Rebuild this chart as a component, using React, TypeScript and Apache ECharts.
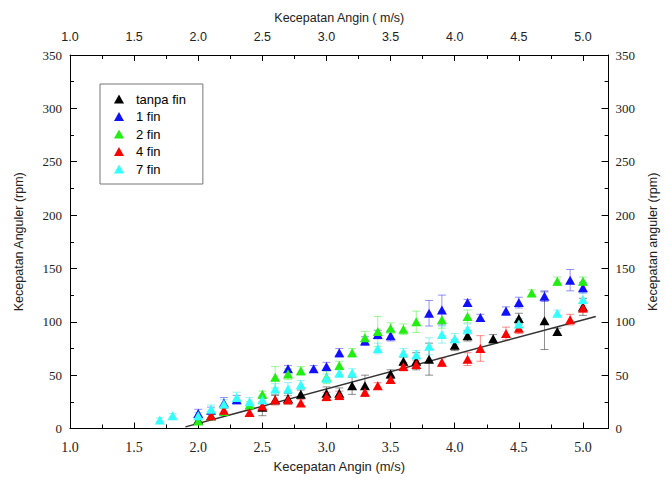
import React, { useEffect, useRef } from "react";
import * as echarts from "echarts";

const seriesNames = ["tanpa fin", "1 fin", "2 fin", "4 fin", "7 fin"];
const seriesColors = ["#000000", "#1010ff", "#22ee11", "#ff0000", "#33ffff"];
const errColors = ["rgba(0,0,0,0.45)", "rgba(16,16,255,0.45)", "rgba(34,238,17,0.45)", "rgba(255,0,0,0.45)", "rgba(51,230,230,0.5)"];

const tanpaFinX = [2.0, 2.1, 2.5, 2.6, 2.7, 2.8, 3.0, 3.1, 3.2, 3.3, 3.5, 3.6, 3.7, 3.8, 4.0, 4.1, 4.3, 4.5, 4.7, 4.8, 5.0];
const tanpaFinY = [8, 12, 20, 27, 28, 32, 33, 33, 40, 40, 51, 63, 63, 65, 78, 87, 84, 103, 101, 91, 114];
const tanpaFinErr = [3, 3, 8, 4, 5, 4, 6, 5, 8, 10, 4, 4, 8, 15, 5, 5, 4, 5, 27, 3, 8];

const fin1X = [2.0, 2.1, 2.2, 2.3, 2.7, 2.9, 3.0, 3.1, 3.3, 3.4, 3.5, 3.8, 3.9, 4.1, 4.2, 4.4, 4.5, 4.7, 4.9, 5.0];
const fin1Y = [14, 17, 24, 27, 56, 56, 58, 71, 82, 88, 87, 108, 111, 118, 104, 110, 118, 124, 139, 132];
const fin1Err = [4, 3, 5, 4, 3, 3, 4, 4, 4, 4, 5, 12, 14, 3, 3, 4, 5, 5, 10, 5];

const fin2X = [2.0, 2.1, 2.2, 2.4, 2.5, 2.6, 2.7, 2.8, 3.0, 3.1, 3.2, 3.3, 3.4, 3.5, 3.6, 3.7, 3.9, 4.1, 4.6, 4.8, 5.0];
const fin2Y = [7, 12, 16, 22, 32, 48, 51, 54, 48, 59, 71, 85, 91, 94, 93, 100, 102, 105, 127, 138, 138];
const fin2Err = [3, 3, 3, 3, 3, 10, 5, 4, 6, 4, 4, 6, 14, 5, 5, 10, 8, 6, 3, 4, 4];

const fin4X = [2.1, 2.2, 2.4, 2.5, 2.6, 2.7, 2.8, 3.0, 3.1, 3.3, 3.4, 3.5, 3.6, 3.7, 3.9, 4.1, 4.2, 4.4, 4.5, 4.9, 5.0];
const fin4Y = [12, 17, 15, 21, 27, 27, 24, 30, 31, 34, 40, 46, 58, 60, 62, 65, 75, 89, 94, 102, 113];
const fin4Err = [3, 3, 3, 4, 5, 4, 3, 4, 4, 3, 3, 3, 4, 4, 4, 6, 12, 6, 5, 5, 4];

const fin7X = [1.7, 1.8, 2.0, 2.1, 2.2, 2.3, 2.4, 2.5, 2.6, 2.7, 2.8, 3.0, 3.1, 3.2, 3.4, 3.6, 3.7, 3.8, 3.9, 4.0, 4.1, 4.5, 4.8, 5.0];
const fin7Y = [8, 12, 12, 18, 23, 29, 25, 27, 37, 37, 41, 47, 52, 52, 75, 71, 69, 77, 88, 84, 93, 98, 108, 121];
const fin7Err = [2, 2, 3, 4, 4, 5, 4, 4, 5, 6, 4, 4, 4, 4, 5, 4, 4, 8, 8, 5, 5, 5, 3, 6];

const trendX = [1.9, 5.1];
const trendY = [1.5, 105];

const seriesX = [tanpaFinX, fin1X, fin2X, fin4X, fin7X];
const seriesY = [tanpaFinY, fin1Y, fin2Y, fin4Y, fin7Y];
const seriesErr = [tanpaFinErr, fin1Err, fin2Err, fin4Err, fin7Err];

const SERIF = "Liberation Serif";
const SANS = "Liberation Sans";

export default function App() {
  const ref = useRef<HTMLDivElement>(null);
  useEffect(() => {
    if (!ref.current) return;
    const chart = echarts.init(ref.current, null, { renderer: "svg" });

    const xLabelFmt = (v: number) => (Math.abs(v * 2 - Math.round(v * 2)) < 1e-6 ? v.toFixed(1) : "");

    const errSeries = seriesNames.map((name, i) => ({
      type: "custom",
      name: name + "-err",
      silent: true,
      z: 1,
      encode: { x: 0, y: 1 },
      data: seriesX[i].map((x, k) => [x, seriesY[i][k], seriesErr[i][k]]),
      renderItem: (params: any, api: any) => {
        const x = api.value(0);
        const y = api.value(1);
        const e = api.value(2);
        const top = api.coord([x, y + e]);
        const bot = api.coord([x, Math.max(0, y - e)]);
        const hw = 4;
        const style = { stroke: errColors[i], lineWidth: 1 };
        return {
          type: "group",
          children: [
            { type: "line", shape: { x1: top[0], y1: top[1], x2: bot[0], y2: bot[1] }, style },
            { type: "line", shape: { x1: top[0] - hw, y1: top[1], x2: top[0] + hw, y2: top[1] }, style },
            { type: "line", shape: { x1: bot[0] - hw, y1: bot[1], x2: bot[0] + hw, y2: bot[1] }, style },
          ],
        };
      },
    }));

    const scatterSeries = seriesNames.map((name, i) => ({
      type: "scatter",
      name,
      z: 3,
      symbol: "triangle",
      symbolSize: [10, 9],
      itemStyle: { color: seriesColors[i], opacity: 1 },
      data: seriesX[i].map((x, k) => [x, seriesY[i][k]]),
    }));

    const axisLine = { show: true, onZero: false, lineStyle: { color: "#000", width: 1 } };

    chart.setOption({
      animation: false,
      backgroundColor: "#fff",
      grid: { left: 70, right: 54, top: 55, bottom: 52.5 },
      legend: {
        orient: "vertical",
        left: 100,
        top: 84,
        data: seriesNames,
        icon: "triangle",
        itemWidth: 10,
        itemHeight: 9,
        itemGap: 3.5,
        padding: [8, 17, 8, 14],
        borderColor: "#777",
        borderWidth: 1,
        backgroundColor: "#fff",
        textStyle: { fontFamily: SANS, fontSize: 13, color: "#000", lineHeight: 14, padding: [0, 0, 0, 7] },
      },
      xAxis: [
        {
          type: "value",
          position: "bottom",
          min: 1,
          max: 5.2,
          interval: 0.5,
          name: "Kecepatan Angin (m/s)",
          nameLocation: "middle",
          nameGap: 31,
          nameTextStyle: { fontFamily: SANS, fontSize: 13, color: "#222" },
          axisLine,
          axisTick: { show: true, inside: true, length: 6, lineStyle: { color: "#000" } },
          minorTick: { show: true, splitNumber: 2, length: 4, lineStyle: { color: "#000" } },
          splitLine: { show: false },
          axisLabel: { fontFamily: SERIF, fontSize: 14, color: "#222", margin: 12, formatter: xLabelFmt },
        },
        {
          type: "value",
          position: "top",
          min: 1,
          max: 5.2,
          interval: 0.5,
          name: "Kecepatan Angin ( m/s)",
          nameLocation: "middle",
          nameGap: 31,
          nameTextStyle: { fontFamily: SANS, fontSize: 12.5, color: "#222" },
          axisLine,
          axisTick: { show: true, inside: true, length: 6, lineStyle: { color: "#000" } },
          minorTick: { show: true, splitNumber: 2, length: 4, lineStyle: { color: "#000" } },
          splitLine: { show: false },
          axisLabel: { fontFamily: SANS, fontSize: 12.5, color: "#222", margin: 12, formatter: xLabelFmt },
        },
      ],
      yAxis: [
        {
          type: "value",
          position: "left",
          min: 0,
          max: 350,
          interval: 50,
          name: "Kecepatan Anguler (rpm)",
          nameLocation: "middle",
          nameGap: 45,
          nameTextStyle: { fontFamily: SANS, fontSize: 12.5, color: "#222" },
          axisLine,
          axisTick: { show: true, inside: true, length: 7, lineStyle: { color: "#000" } },
          minorTick: { show: true, splitNumber: 2, length: 4, lineStyle: { color: "#000" } },
          splitLine: { show: false },
          axisLabel: { fontFamily: SERIF, fontSize: 13, color: "#222", margin: 8 },
        },
        {
          type: "value",
          position: "right",
          min: 0,
          max: 350,
          interval: 50,
          name: "Kecepatan anguler (rpm)",
          nameLocation: "middle",
          nameGap: 26,
          nameRotate: 90,
          nameTextStyle: { fontFamily: SANS, fontSize: 12.5, color: "#222" },
          axisLine,
          axisTick: { show: true, inside: true, length: 7, lineStyle: { color: "#000" } },
          minorTick: { show: true, splitNumber: 2, length: 4, lineStyle: { color: "#000" } },
          splitLine: { show: false },
          axisLabel: { fontFamily: SERIF, fontSize: 13, color: "#222", margin: 7 },
        },
      ],
      series: [
        ...errSeries,
        {
          type: "line",
          name: "trend",
          z: 2,
          symbol: "none",
          silent: true,
          lineStyle: { color: "#333", width: 1.5 },
          data: trendX.map((x, k) => [x, trendY[k]]),
        },
        ...scatterSeries,
      ],
    });
    return () => chart.dispose();
  }, []);
  return <div ref={ref} style={{ width: 667, height: 481, position: "absolute", left: 0, top: 0 }} />;
}
